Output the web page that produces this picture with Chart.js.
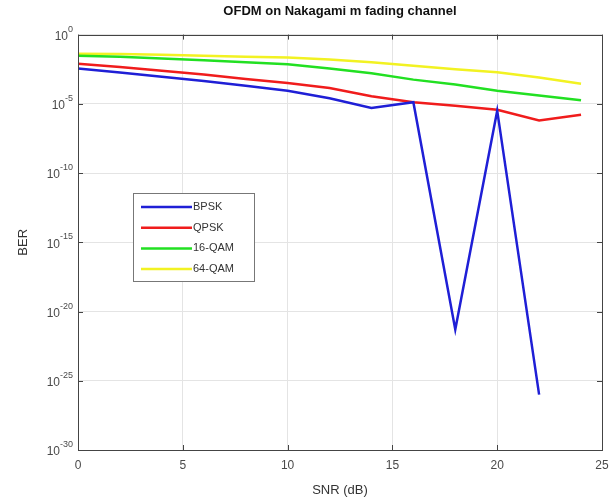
<!DOCTYPE html>
<html>
<head>
<meta charset="utf-8">
<script src="https://cdn.jsdelivr.net/npm/chart.js@4/dist/chart.umd.min.js"></script>
<style>
  html, body { margin: 0; padding: 0; background: #fff; }
  #wrap { width: 611px; height: 500px; }
</style>
</head>
<body>
<div id="wrap"><canvas id="berChart" width="611" height="500"></canvas></div>
<script>
// SNR points (dB)
const snr = [0, 2, 4, 6, 8, 10, 12, 14, 16, 18, 20, 22, 24];

// BER (BPSK has no point at 24 dB)
const bpsk = [3.5e-3, 1.8e-3, 8.9e-4, 4.5e-4, 2.0e-4, 8.9e-5, 2.5e-5, 5.0e-6, 1.3e-5, 5e-22, 3.2e-6, 1e-26, null];
const qpsk = [7.9e-3, 4.5e-3, 2.5e-3, 1.3e-3, 6.3e-4, 3.2e-4, 1.4e-4, 3.5e-5, 1.3e-5, 7.2e-6, 3.7e-6, 6.3e-7, 1.6e-6];
const qam16 = [3.0e-2, 2.5e-2, 1.9e-2, 1.4e-2, 1.0e-2, 7.1e-3, 3.5e-3, 1.6e-3, 5.6e-4, 2.5e-4, 8.9e-5, 4.0e-5, 1.8e-5];
const qam64 = [4.2e-2, 4.0e-2, 3.5e-2, 3.0e-2, 2.5e-2, 2.2e-2, 1.6e-2, 1.0e-2, 5.6e-3, 3.2e-3, 1.9e-3, 7.9e-4, 2.8e-4];

const seriesNames = ['BPSK', 'QPSK', '16-QAM', '64-QAM'];
const seriesColors = ['#1f1fd6', '#f01c1c', '#22e022', '#f2f222'];

const xTicks = [0, 5, 10, 15, 20, 25];
const yTicks = [1e0, 1e-5, 1e-10, 1e-15, 1e-20, 1e-25, 1e-30];

const FONT = '"Liberation Sans", Arial, sans-serif';

function toPoints(arr) {
    return snr.map((x, i) => ({ x: x, y: arr[i] }));
}

// box, inward ticks, 10^n labels and the legend, MATLAB style
const matlabFrame = {
    id: 'matlabFrame',
    afterDraw(chart) {
        const ctx = chart.ctx;
        const a = chart.chartArea;
        const xs = chart.scales.x, ys = chart.scales.y;
        ctx.save();
        ctx.strokeStyle = '#444';
        ctx.lineWidth = 1;
        ctx.beginPath();
        xTicks.forEach(v => {
            const px = Math.round(xs.getPixelForValue(v)) + 0.5;
            ctx.moveTo(px, a.bottom); ctx.lineTo(px, a.bottom - 5);
            ctx.moveTo(px, a.top); ctx.lineTo(px, a.top + 5);
        });
        yTicks.forEach(v => {
            const py = Math.round(ys.getPixelForValue(v)) + 0.5;
            ctx.moveTo(a.left, py); ctx.lineTo(a.left + 5, py);
            ctx.moveTo(a.right, py); ctx.lineTo(a.right - 5, py);
        });
        ctx.stroke();
        ctx.strokeRect(Math.round(a.left) + 0.5, Math.round(a.top) + 0.5,
            Math.round(a.right - a.left), Math.round(a.bottom - a.top));

        // y tick labels as 10 with a raised exponent
        ctx.fillStyle = '#4a4a4a';
        ctx.textAlign = 'right';
        yTicks.forEach(v => {
            const py = ys.getPixelForValue(v);
            const exp = String(Math.round(Math.log10(v)));
            ctx.font = '9px ' + FONT;
            const ew = ctx.measureText(exp).width;
            ctx.textBaseline = 'alphabetic';
            ctx.fillText(exp, a.left - 5, py - 3);
            ctx.font = '12px ' + FONT;
            ctx.textBaseline = 'middle';
            ctx.fillText('10', a.left - 5 - ew, py + 2);
        });

        // legend
        const lx = 133, ly = 193, lw = 121, lh = 88;
        ctx.fillStyle = '#fff';
        ctx.fillRect(lx, ly, lw, lh);
        ctx.strokeStyle = '#777';
        ctx.strokeRect(lx + 0.5, ly + 0.5, lw, lh);
        ctx.font = '11px ' + FONT;
        ctx.textBaseline = 'middle';
        ctx.textAlign = 'left';
        chart.data.datasets.forEach((ds, i) => {
            const y = ly + 14 + i * 20.7;
            ctx.strokeStyle = ds.borderColor;
            ctx.lineWidth = 2.5;
            ctx.beginPath();
            ctx.moveTo(lx + 8, y); ctx.lineTo(lx + 59, y);
            ctx.stroke();
            ctx.fillStyle = '#333';
            ctx.fillText(ds.label, lx + 60, y);
        });
        ctx.restore();
    }
};

new Chart(document.getElementById('berChart'), {
    type: 'line',
    data: {
        datasets: [bpsk, qpsk, qam16, qam64].map((arr, i) => ({
            label: seriesNames[i],
            data: toPoints(arr),
            borderColor: seriesColors[i],
            backgroundColor: seriesColors[i],
            borderWidth: 2.5,
            pointRadius: 0,
            fill: false,
            tension: 0,
            spanGaps: false
        }))
    },
    options: {
        responsive: false,
        animation: false,
        layout: { padding: { left: 0, right: 9, top: 0, bottom: 0 } },
        plugins: {
            legend: { display: false },
            tooltip: { enabled: false },
            title: {
                display: true,
                fullSize: false,
                text: 'OFDM on Nakagami m fading channel',
                color: '#111',
                font: { family: FONT, size: 13, weight: 'bold' },
                padding: { top: 4, bottom: 15 }
            }
        },
        scales: {
            x: {
                type: 'linear',
                min: 0,
                max: 25,
                afterBuildTicks: (s) => { s.ticks = xTicks.map(v => ({ value: v })); },
                afterFit: (s) => { s.height = 50; s.paddingLeft = 0; s.paddingRight = 0; },
                grid: { color: '#e4e4e4', drawTicks: false },
                border: { display: false },
                ticks: {
                    color: '#4a4a4a',
                    padding: 8,
                    maxRotation: 0,
                    font: { family: FONT, size: 12 }
                },
                title: {
                    display: true,
                    text: 'SNR (dB)',
                    color: '#333',
                    font: { family: FONT, size: 13 },
                    padding: { top: 0, bottom: 2 }
                }
            },
            y: {
                type: 'logarithmic',
                min: 1e-30,
                max: 1,
                afterBuildTicks: (s) => { s.ticks = yTicks.map(v => ({ value: v })); },
                afterFit: (s) => { s.width = 78; },
                grid: { color: '#e4e4e4', drawTicks: false },
                border: { display: false },
                ticks: { display: false },
                title: {
                    display: true,
                    text: 'BER',
                    color: '#333',
                    font: { family: FONT, size: 13 },
                    padding: { top: 16, bottom: 0 }
                }
            }
        }
    },
    plugins: [matlabFrame]
});
</script>
</body>
</html>
